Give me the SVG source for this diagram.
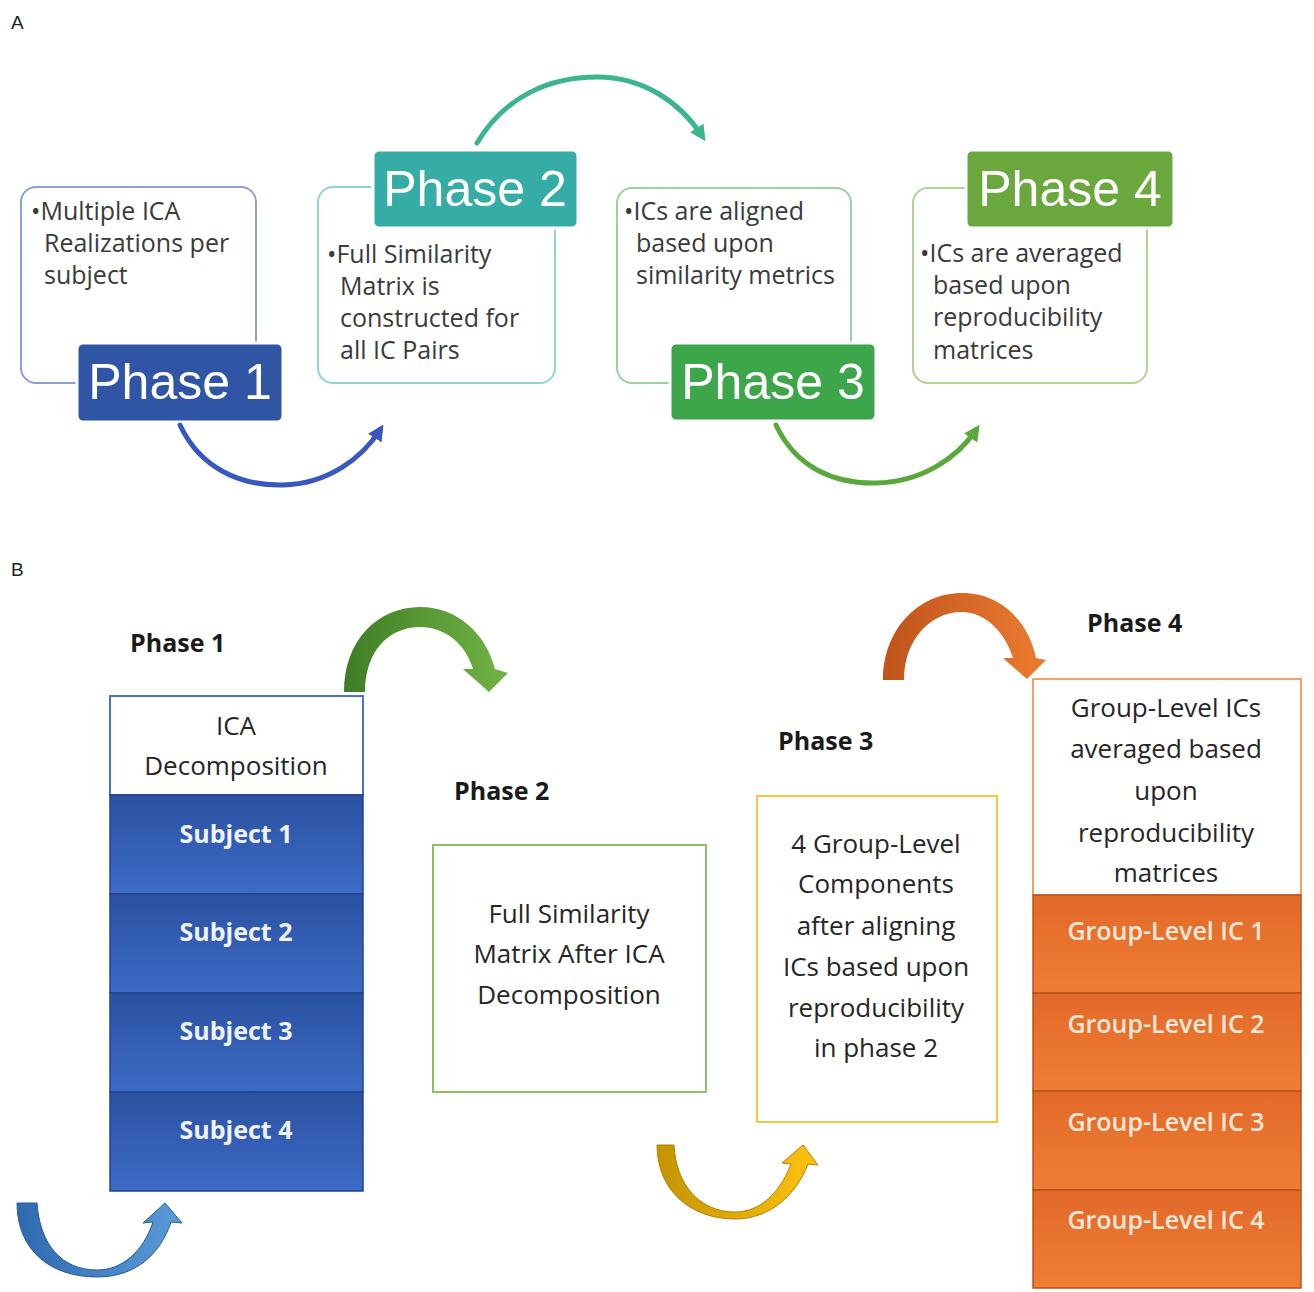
<svg xmlns="http://www.w3.org/2000/svg" width="1314" height="1292" viewBox="0 0 1314 1292">
<style>
.body{font-family:"Open Sans","Liberation Sans",sans-serif;font-size:25px;fill:#3a3a3a}
.lbl{font-family:"Liberation Sans",Arial,sans-serif;font-size:50px;fill:#ffffff;text-anchor:middle}
.ph{font-family:"Open Sans","Liberation Sans",sans-serif;font-size:25px;font-weight:bold;fill:#1a1a1a}
.ct{font-family:"Open Sans","Liberation Sans",sans-serif;font-size:26px;fill:#262626;text-anchor:middle}
.subj{font-family:"Open Sans","Liberation Sans",sans-serif;font-size:25px;font-weight:bold;fill:#eef3ff;text-anchor:middle}
.gl{font-family:"Open Sans","Liberation Sans",sans-serif;font-size:25px;font-weight:600;fill:#fbe8d8;text-anchor:middle}
.sec{font-family:"Liberation Sans",Arial,sans-serif;font-size:19px;fill:#222}
.outline{fill:#ffffff;stroke-width:2}
.tag{stroke:#ffffff;stroke-width:3}
.blue{fill:url(#gBlue);stroke:#22448a;stroke-width:1.5}
.orange{fill:url(#gOrange);stroke:#b8541c;stroke-width:1.5}
.arc{fill:none;stroke-width:5;stroke-linecap:round}
</style>
<defs>
<linearGradient id="gBlue" x1="0" y1="0" x2="0" y2="1"><stop offset="0" stop-color="#2b51a0"/><stop offset="1" stop-color="#3c6bc6"/></linearGradient>
<linearGradient id="gOrange" x1="0" y1="0" x2="0" y2="1"><stop offset="0" stop-color="#e2692a"/><stop offset="1" stop-color="#ef7e34"/></linearGradient>
<linearGradient id="gArrGreen" x1="0" y1="0" x2="1" y2="0"><stop offset="0" stop-color="#3f7d26"/><stop offset="1" stop-color="#72b445"/></linearGradient>
<linearGradient id="gArrOrange" x1="0" y1="0" x2="1" y2="0"><stop offset="0" stop-color="#bf531b"/><stop offset="1" stop-color="#ec7c30"/></linearGradient>
<linearGradient id="gArrBlue" x1="0" y1="0" x2="1" y2="0"><stop offset="0" stop-color="#2e6aae"/><stop offset="1" stop-color="#5b9bd9"/></linearGradient>
<linearGradient id="gArrYellow" x1="0" y1="0" x2="1" y2="0"><stop offset="0" stop-color="#c49400"/><stop offset="1" stop-color="#ffc20e"/></linearGradient>
<marker id="mBlue" viewBox="0 0 10 10" refX="6" refY="5" markerWidth="16" markerHeight="16" markerUnits="userSpaceOnUse" orient="auto"><path d="M0,0 L10,5 L0,10 z" fill="#3858c0"/></marker>
<marker id="mTeal" viewBox="0 0 10 10" refX="6" refY="5" markerWidth="16" markerHeight="16" markerUnits="userSpaceOnUse" orient="auto"><path d="M0,0 L10,5 L0,10 z" fill="#3cb58c"/></marker>
<marker id="mGreen" viewBox="0 0 10 10" refX="6" refY="5" markerWidth="16" markerHeight="16" markerUnits="userSpaceOnUse" orient="auto"><path d="M0,0 L10,5 L0,10 z" fill="#5aa83c"/></marker>
</defs>
<rect width="1314" height="1292" fill="#ffffff"/>

<text class="sec" x="11" y="29">A</text>
<text class="sec" x="11" y="576">B</text>

<!-- Part A -->
<g id="a-phase1">
<rect class="outline" x="21" y="187" width="235" height="196" rx="15" stroke="#8c9fd8"/>
<text class="body" x="31" y="220">•Multiple ICA</text>
<text class="body" x="44" y="252">Realizations per</text>
<text class="body" x="44" y="284">subject</text>
<rect class="tag" x="77" y="343" width="206" height="79" rx="6" fill="#2f55a4"/>
<text class="lbl" x="180" y="399">Phase 1</text>
</g>
<g id="a-phase2">
<rect class="outline" x="318" y="187" width="237" height="196" rx="15" stroke="#8fd6cf"/>
<text class="body" x="327" y="263">•Full Similarity</text>
<text class="body" x="340" y="295">Matrix is</text>
<text class="body" x="340" y="327">constructed for</text>
<text class="body" x="340" y="359">all IC Pairs</text>
<rect class="tag" x="373" y="150" width="205" height="78" rx="6" fill="#36aca7"/>
<text class="lbl" x="475" y="206">Phase 2</text>
</g>
<g id="a-phase3">
<rect class="outline" x="617" y="188" width="234" height="195" rx="15" stroke="#96d2a2"/>
<text class="body" x="624" y="220">•ICs are aligned</text>
<text class="body" x="636" y="252">based upon</text>
<text class="body" x="636" y="284">similarity metrics</text>
<rect class="tag" x="670" y="343" width="206" height="78" rx="6" fill="#3da64a"/>
<text class="lbl" x="773" y="399">Phase 3</text>
</g>
<g id="a-phase4">
<rect class="outline" x="913" y="188" width="234" height="195" rx="15" stroke="#aed48f"/>
<text class="body" x="920" y="262">•ICs are averaged</text>
<text class="body" x="933" y="294">based upon</text>
<text class="body" x="933" y="326">reproducibility</text>
<text class="body" x="933" y="359">matrices</text>
<rect class="tag" x="966" y="150" width="208" height="78" rx="6" fill="#6aa83e"/>
<text class="lbl" x="1070" y="206">Phase 4</text>
</g>

<!-- Part B -->
<g id="b-phase1">
<text class="ph" x="130" y="652">Phase 1</text>
<rect x="110" y="696" width="253" height="99" fill="#ffffff" stroke="#4a72c8" stroke-width="2"/>
<text class="ct" x="236" y="735">ICA</text>
<text class="ct" x="236" y="775">Decomposition</text>
<rect class="blue" x="110" y="795" width="253" height="99"/>
<text class="subj" x="236" y="843">Subject 1</text>
<rect class="blue" x="110" y="894" width="253" height="99"/>
<text class="subj" x="236" y="941">Subject 2</text>
<rect class="blue" x="110" y="993" width="253" height="99"/>
<text class="subj" x="236" y="1040">Subject 3</text>
<rect class="blue" x="110" y="1092" width="253" height="99"/>
<text class="subj" x="236" y="1139">Subject 4</text>
</g>
<g id="b-phase2">
<text class="ph" x="454" y="800">Phase 2</text>
<rect x="433" y="845" width="273" height="247" fill="#ffffff" stroke="#8cc063" stroke-width="2"/>
<text class="ct" x="569" y="923">Full Similarity</text>
<text class="ct" x="569" y="963">Matrix After ICA</text>
<text class="ct" x="569" y="1004">Decomposition</text>
</g>
<g id="b-phase3">
<text class="ph" x="778" y="750">Phase 3</text>
<rect x="757" y="796" width="240" height="326" fill="#ffffff" stroke="#f7c640" stroke-width="2"/>
<text class="ct" x="876" y="853">4 Group-Level</text>
<text class="ct" x="876" y="893">Components</text>
<text class="ct" x="876" y="935">after aligning</text>
<text class="ct" x="876" y="976">ICs based upon</text>
<text class="ct" x="876" y="1017">reproducibility</text>
<text class="ct" x="876" y="1057">in phase 2</text>
</g>
<g id="b-phase4">
<text class="ph" x="1087" y="632">Phase 4</text>
<rect x="1033" y="679" width="268" height="216" fill="#ffffff" stroke="#f2a06a" stroke-width="2"/>
<text class="ct" x="1166" y="717">Group-Level ICs</text>
<text class="ct" x="1166" y="758">averaged based</text>
<text class="ct" x="1166" y="800">upon</text>
<text class="ct" x="1166" y="842">reproducibility</text>
<text class="ct" x="1166" y="882">matrices</text>
<rect class="orange" x="1033" y="895" width="268" height="98"/>
<text class="gl" x="1166" y="940">Group-Level IC 1</text>
<rect class="orange" x="1033" y="993" width="268" height="98"/>
<text class="gl" x="1166" y="1033">Group-Level IC 2</text>
<rect class="orange" x="1033" y="1091" width="268" height="99"/>
<text class="gl" x="1166" y="1131">Group-Level IC 3</text>
<rect class="orange" x="1033" y="1190" width="268" height="98"/>
<text class="gl" x="1166" y="1229">Group-Level IC 4</text>
</g>

<g id="connectors">
<path class="arc" d="M180,425 C200,468 240,486 283,485 C328,484 362,458 380,430" stroke="#3858c0" marker-end="url(#mBlue)"/>
<path class="arc" d="M477,143 C505,96 550,77 597,77 C643,77 680,102 702,136" stroke="#3cb58c" marker-end="url(#mTeal)"/>
<path class="arc" d="M776,425 C796,468 835,484 876,483 C922,482 957,458 976,430" stroke="#5aa83c" marker-end="url(#mGreen)"/>
<path d="M344,692 C344,640 378,607 420,607 C458,607 486,634 495,669 L508,673 L489,692 L463,669 L473,669 C466,645 446,627 420,627 C390,627 365,650 365,692 Z" fill="url(#gArrGreen)"/>
<path d="M883,680 C883,630 918,593 962,593 C1000,593 1028,620 1036,658 L1046,660 L1027,679 L1003,658 L1013,658 C1005,632 985,612 962,612 C930,612 904,640 904,680 Z" fill="url(#gArrOrange)"/>
<path d="M17,1203 C17,1250 50,1277 97,1277 C135,1277 160,1255 171,1222 L182,1223 L165,1203 L143,1223 L153,1222 C143,1252 122,1270 97,1270 C62,1270 40,1245 37,1203 Z" fill="url(#gArrBlue)" stroke="#2a5a98" stroke-width="1"/>
<path d="M657,1145 C657,1190 690,1219 735,1219 C770,1219 796,1195 808,1164 L818,1165 L803,1145 L782,1163 L791,1164 C780,1193 760,1212 735,1212 C700,1212 676,1185 674,1145 Z" fill="url(#gArrYellow)" stroke="#b08400" stroke-width="1"/>
</g>
</svg>
